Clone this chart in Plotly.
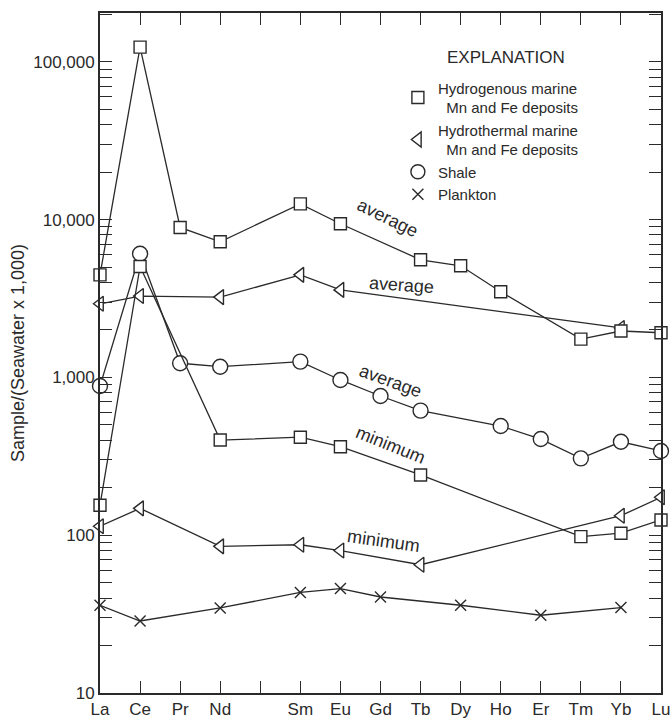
import plotly.graph_objects as go

# Rare-earth elements in order of atomic number (Pm has no data)
elements = ["La", "Ce", "Pr", "Nd", "Pm", "Sm", "Eu", "Gd", "Tb", "Dy", "Ho", "Er", "Tm", "Yb", "Lu"]
tick_labels = ["La", "Ce", "Pr", "Nd", "", "Sm", "Eu", "Gd", "Tb", "Dy", "Ho", "Er", "Tm", "Yb", "Lu"]

# Sample / (Seawater x 1,000); None = not determined
hydrogenous_avg = [4470, 124000, 8930, 7240, None, 12600, 9420, None, 5570, 5100, 3490, None, 1750, 1970, 1920]
hydrogenous_min = [155, 5050, None, 401, None, 418, 364, None, 241, None, None, None, 98, 103, 125]
hydrothermal_avg = [2930, 3280, None, 3230, None, 4470, 3590, None, None, None, None, None, None, 2060, None]
hydrothermal_min = [114, 148, None, 85, None, 87, 80, None, 65, None, None, None, None, 133, 174]
shale_avg = [883, 6080, 1230, 1170, None, 1260, 964, 763, 616, None, 492, 407, 307, 391, 342]
plankton = [36, 28.6, None, 34.6, None, 43.4, 45.9, 40.6, None, 36.0, None, 31.1, None, 34.8, None]

y_tick_vals = [10, 100, 1000, 10000, 100000]
y_tick_text = ["10", "100", "1,000", "10,000", "100,000"]

INK = "#2a2a2a"
FONT = "Liberation Sans, Arial, sans-serif"
xs = list(range(len(elements)))

fig = go.Figure()


def add_series(values, symbol, size, fill="white"):
    fig.add_trace(go.Scatter(
        x=xs, y=values, mode="lines+markers", connectgaps=True,
        line=dict(color=INK, width=1.3),
        marker=dict(symbol=symbol, size=size, color=fill,
                    line=dict(color=INK, width=1.4)),
        cliponaxis=False, showlegend=False, hoverinfo="skip",
    ))


add_series(plankton, "x-thin", 11, INK)
add_series(hydrothermal_min, "triangle-left", 13)
add_series(hydrothermal_avg, "triangle-left", 13)
add_series(shale_avg, "circle", 15)
add_series(hydrogenous_min, "square", 12)
add_series(hydrogenous_avg, "square", 12)

# Explanation entries (symbols only)
legend_items = [
    ("Hydrogenous marine<br>\u00a0\u00a0Mn and Fe deposits", "square-open", 12),
    ("Hydrothermal marine<br>\u00a0\u00a0Mn and Fe deposits", "triangle-left-open", 13),
    ("Shale", "circle-open", 14),
    ("Plankton", "x-thin-open", 11),
]
for name, symbol, size in legend_items:
    fig.add_trace(go.Scatter(
        x=[None], y=[None], mode="markers", name=name,
        marker=dict(symbol=symbol, size=size, color=INK,
                    line=dict(color=INK, width=1.4)),
    ))

fig.add_annotation(xref="paper", yref="paper", x=0.723, y=0.934,
                   xanchor="center", yanchor="middle", showarrow=False,
                   text="EXPLANATION", font=dict(family=FONT, size=17, color=INK))

# Curve labels
curve_labels = [
    ("average", 7.18, 4.01, 26),
    ("average", 7.53, 3.587, 4),
    ("average", 7.25, 2.978, 20),
    ("minimum", 7.25, 2.572, 22),
    ("minimum", 7.08, 1.963, 8),
]
for text, x, logy, angle in curve_labels:
    fig.add_annotation(x=x, y=logy, text=text, textangle=angle, showarrow=False,
                       font=dict(family=FONT, size=18, color=INK))

fig.update_layout(
    template="none",
    width=672, height=719,
    margin=dict(l=100, r=11, t=13, b=26),
    paper_bgcolor="white", plot_bgcolor="white",
    font=dict(family=FONT, size=17, color=INK),
    legend=dict(
        x=0.531, y=0.914, xanchor="left", yanchor="top",
        bgcolor="rgba(0,0,0,0)", borderwidth=0, itemwidth=30,
        font=dict(family=FONT, size=15, color=INK),
        tracegroupgap=0,
    ),
)

fig.update_xaxes(
    range=[0, 14], tickmode="array", tickvals=xs, ticktext=tick_labels,
    ticks="inside", ticklen=12, tickwidth=1.3, tickcolor=INK,
    showline=True, linecolor=INK, linewidth=1.8, mirror="ticks",
    showgrid=False, zeroline=False, automargin=False,
    tickfont=dict(family=FONT, size=17, color=INK),
)
fig.update_yaxes(
    type="log", range=[1, 5.31],
    tickmode="array", tickvals=y_tick_vals, ticktext=y_tick_text,
    ticks="inside", ticklen=12, tickwidth=1.3, tickcolor=INK,
    minor=dict(ticks="inside", ticklen=12, tickwidth=1.3, tickcolor=INK,
               dtick="D1", showgrid=False),
    showline=True, linecolor=INK, linewidth=1.8, mirror="ticks",
    showgrid=False, zeroline=False, automargin=False,
    tickfont=dict(family=FONT, size=17, color=INK),
    title=dict(text="Sample/(Seawater x 1,000)", standoff=4,
               font=dict(family=FONT, size=18, color=INK)),
)

fig.write_html("out.html")
